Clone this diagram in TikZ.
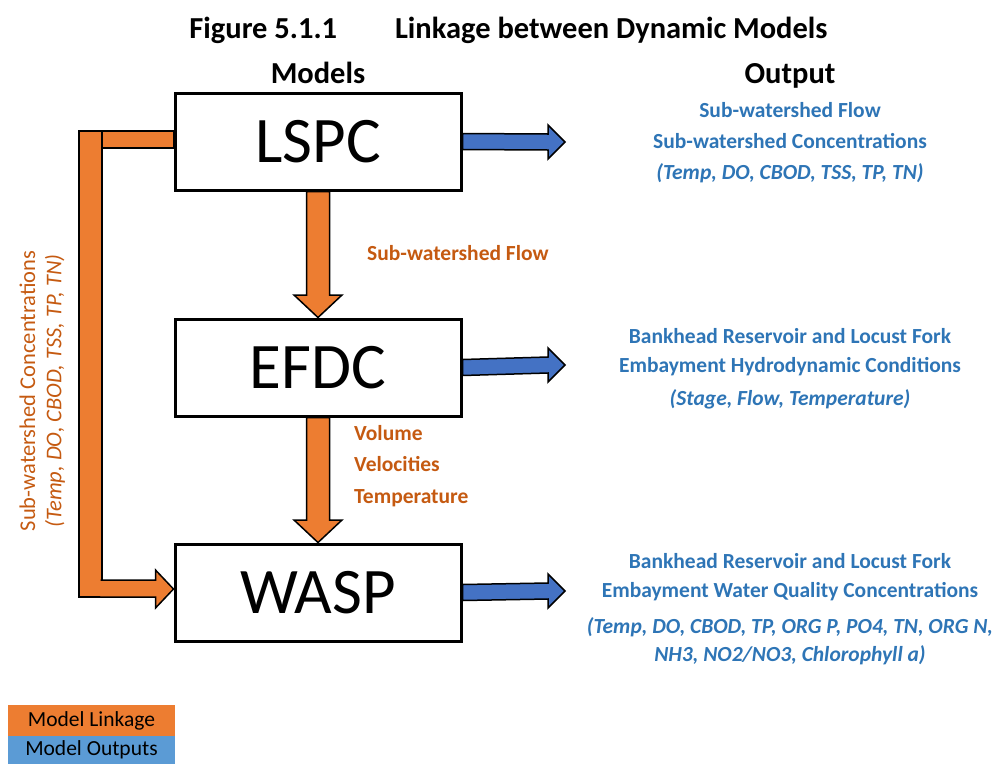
\documentclass[tikz,border=0pt]{standalone}
\usepackage{fontspec}
\setmainfont{Carlito}
\usetikzlibrary{calc}
\definecolor{linkorange}{HTML}{ED7D31}
\definecolor{txtorange}{HTML}{C55A11}
\definecolor{outblue}{HTML}{4472C4}
\definecolor{txtblue}{HTML}{2E75B6}
\definecolor{legblue}{HTML}{5B9BD5}
\newcommand\vlinkarrow[2]{%
  \draw[linkshape] ($(#1.south)+(-11.5,1.5)$) -- ($(#2.north)+(-11.5,-24)$) -- ($(#2.north)+(-24,-24)$) -- ($(#2.north)+(0,-1.5)$) -- ($(#2.north)+(24,-24)$) -- ($(#2.north)+(11.5,-24)$) -- ($(#1.south)+(11.5,1.5)$) -- cycle;}
\newcommand\outarrow[2]{%
  \draw[outshape] ($(#1.east)+(1.5,-8)$) -- ($(#2)+(-17,-8)$) -- ($(#2)+(-17,-17)$) -- (#2) -- ($(#2)+(-17,17)$) -- ($(#2)+(-17,8)$) -- ($(#1.east)+(1.5,8)$) -- cycle;}
\begin{document}
\begin{tikzpicture}[x=1pt,y=-1pt,
  modelbox/.style={draw=black, line width=3pt, fill=white, minimum width=286pt, minimum height=97pt, inner sep=0pt, outer sep=0pt, font=\fontsize{65}{70}\selectfont},
  linkshape/.style={fill=linkorange, draw=black, line width=1.5pt, line join=miter},
  outshape/.style={fill=outblue, draw=black, line width=1.5pt, line join=miter},
  outtxt/.style={text=txtblue, font=\fontsize{21.5}{26}\selectfont\bfseries, anchor=base, inner sep=0pt},
  outital/.style={text=txtblue, font=\fontsize{21.5}{26}\selectfont\bfseries\itshape, anchor=base, inner sep=0pt},
  linktxt/.style={text=txtorange, font=\fontsize{21.5}{26}\selectfont\bfseries, anchor=base west, inner sep=0pt},
  rottxt/.style={text=txtorange, font=\fontsize{22.5}{27}\selectfont, rotate=90, inner sep=0pt},
  headtxt/.style={font=\fontsize{30.5}{36}\selectfont\bfseries, anchor=base, inner sep=0pt},
  legtxt/.style={font=\fontsize{21.5}{26}\selectfont, minimum width=167pt, inner sep=0pt, outer sep=0pt}
]
\useasboundingbox (0,0) rectangle (999,764);

% headings
\node[headtxt] (title) at (508.5,38) {Figure 5.1.1\hspace{1.9em}Linkage between Dynamic Models};
\node[headtxt] (hmodels) at (318,83) {Models};
\node[headtxt] (houtput) at (790,83) {Output};

% model boxes
\node[modelbox] (lspc) at (318,141.5) {LSPC};
\node[modelbox] (efdc) at (318,367.5) {EFDC};
\node[modelbox] (wasp) at (318,592.5) {WASP};

% linkage down arrows
\vlinkarrow{lspc}{efdc}
\vlinkarrow{efdc}{wasp}

% left feedback bar
\coordinate (bartl) at (79,131);
\coordinate (barbr) at (102,597);
\draw[linkshape] ($(barbr|-bartl)+(-2,0)$) rectangle ($(lspc.west)+(-1.5,6.5)$);
\draw[linkshape] (bartl) rectangle (barbr);
\coordinate (wtip) at ($(wasp.west)+(-1.5,-3.5)$);
\draw[linkshape] ($(barbr)+(-1.5,-17)$) -- ($(wtip)+(-18,-9)$) -- ($(wtip)+(-18,-19)$) -- (wtip) -- ($(wtip)+(-18,19)$) -- ($(wtip)+(-18,8)$) -- ($(barbr)+(-1.5,0)$);

% output arrows
\coordinate (o1) at ($(lspc.east)+(104,0.5)$);
\coordinate (o2) at ($(efdc.east)+(104,-2.5)$);
\coordinate (o3) at ($(wasp.east)+(104,-1.5)$);
\outarrow{lspc}{o1}
\outarrow{efdc}{o2}
\outarrow{wasp}{o3}

% linkage labels
\node[linktxt] (lflow) at (367,260) {Sub-watershed Flow};
\node[linktxt] (lvol) at (354,440) {Volume};
\node[linktxt] (lvel) at (354,471.5) {Velocities};
\node[linktxt] (ltemp) at (354,503) {Temperature};
\node[rottxt] (rot1) at (27.5,391) {Sub-watershed Concentrations};
\node[rottxt, font=\fontsize{22.5}{27}\selectfont\itshape] (rot2) at (55,391) {(Temp, DO, CBOD, TSS, TP, TN)};

% output texts
\node[outtxt] (a1) at (790,117) {Sub-watershed Flow};
\node[outtxt] (a2) at (790,148) {Sub-watershed Concentrations};
\node[outital] (a3) at (790,179) {(Temp, DO, CBOD, TSS, TP, TN)};
\node[outtxt] (b1) at (790,343) {Bankhead Reservoir and Locust Fork};
\node[outtxt] (b2) at (790,372) {Embayment Hydrodynamic Conditions};
\node[outital] (b3) at (790,405) {(Stage, Flow, Temperature)};
\node[outtxt] (c1) at (790,568) {Bankhead Reservoir and Locust Fork};
\node[outtxt] (c2) at (790,597) {Embayment Water Quality Concentrations};
\node[outital] (c3) at (790,633) {(Temp, DO, CBOD, TP, ORG P, PO4, TN, ORG N,};
\node[outital] (c4) at (790,661) {NH3, NO2/NO3, Chlorophyll a)};

% legend
\node[legtxt, fill=linkorange, minimum height=31pt] (leg1) at (91.5,720.5) {Model Linkage};
\node[legtxt, fill=legblue, minimum height=28pt] (leg2) at (91.5,750) {Model Outputs};
\end{tikzpicture}
\end{document}
